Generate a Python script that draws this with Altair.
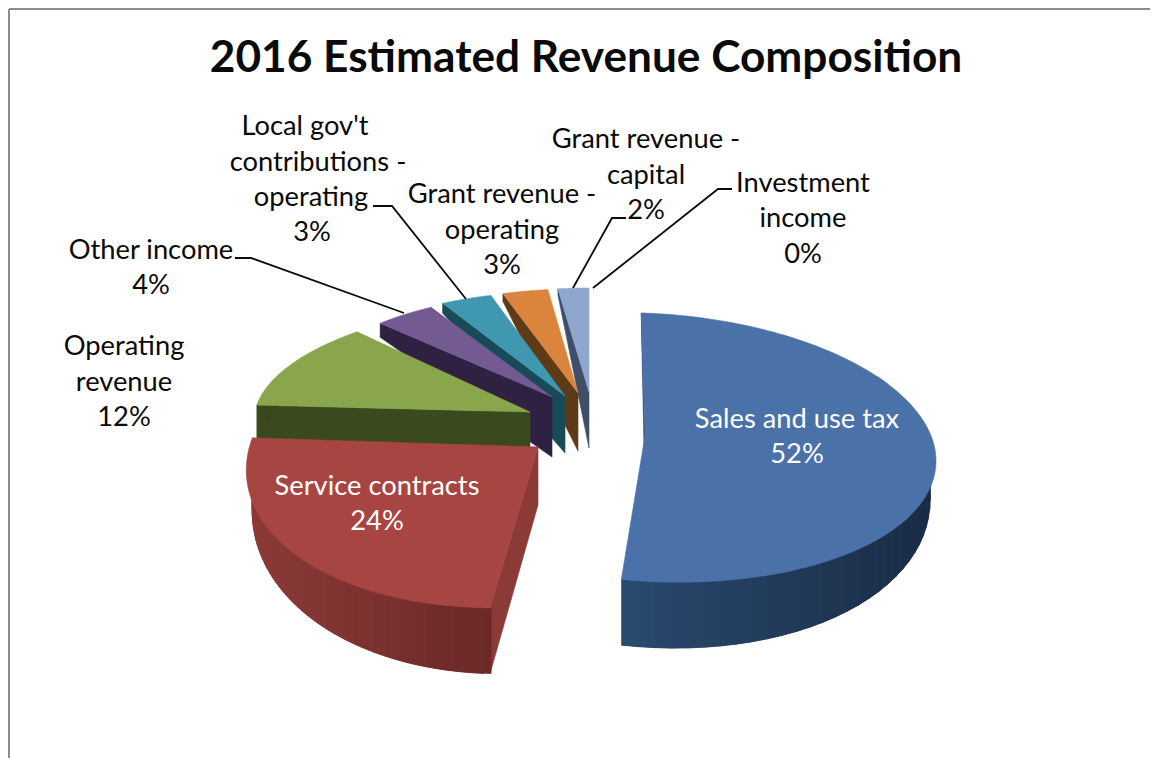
import numpy as np
import pandas as pd
import altair as alt

# ---- chart values ----
categories = ["Sales and use tax", "Service contracts", "Operating revenue", "Other income",
              "Local gov't contributions - operating", "Grant revenue - operating",
              "Grant revenue - capital", "Investment income"]
values = [52, 24, 12, 4, 3, 3, 2, 0]
title_text = "2016 Estimated Revenue Composition"

# ---- colours ----
top_colors = ["#4a71a8", "#a64542", "#8aa64c", "#735a92", "#3f98b0", "#db843d", "#8fa6ce", "#cccccc"]
wall_left = ["#2a4a70", "#8c3a38", "#3a4a1e", "#2e2142", "#184a58", "#5f3a17", "#3f4f6b", "#cccccc"]
wall_right = ["#1a2c45", "#6b2927", "#3a4a1e", "#2e2142", "#184a58", "#5f3a17", "#3f4f6b", "#cccccc"]

# ---- the perspective look of each exploded slice (one entry per category) ----
apex_x = [645, 538, 530, 552, 565, 578, 589, 590]
apex_y = [436, 447, 412, 397, 396, 393, 392, 392]
rim_dx = [5, 0, 0, 0, 0, 0, 0, 0]
radius_a = [284, 287, 275, 251, 274, 245, 248, 248]
shear_x = [-9, 12, 21, 0, 11, 0.6, 0, 0]
radius_b = [133.5, 162, 110, 104, 106, 104, 104, 104]
shear_y = [9, -1, 0, -3, -0.5, 1.3, 0, 0]
persp = [0.085, 0, 0, 0, 0, 0, 0, 0]
bulge = [0, 0.05, 0, 0, 0, 0, 0, 0]
apex_depth = [58, 58, 58, 60, 57, 58, 56, 56]
depth_mean, depth_tilt = 36, 30
bottom_scale = 0.98

edges = np.concatenate([[0], np.cumsum(values)]) / np.sum(values) * 360.0


def rim(i, t):
    t = np.asarray(t, dtype=float)
    a = np.radians(t)
    frac = (t - edges[i]) / max(edges[i + 1] - edges[i], 1e-6)
    s = 1 / (1 + persp[i] * np.cos(a))
    r = (1 + bulge[i] * np.sin(np.pi * frac)) * s
    return (apex_x[i] + r * (radius_a[i] * np.sin(a) + shear_x[i] * np.cos(a) + rim_dx[i]),
            apex_y[i] + r * (-radius_b[i] * np.cos(a) + shear_y[i] * np.sin(a)))


def depth(t):
    return depth_mean - depth_tilt * np.cos(np.radians(t))


def mix(c1, c2, f):
    p = [int(c1[k:k + 2], 16) for k in (1, 3, 5)]
    q = [int(c2[k:k + 2], 16) for k in (1, 3, 5)]
    return "#%02x%02x%02x" % tuple(int(round(u + (v - u) * f)) for u, v in zip(p, q))


rows = []
part = 0


def add_row_pair(x1, y1, y1b, x2, y2, y2b, fill):
    global part
    part += 1
    if x1 > x2:
        x1, y1, y1b, x2, y2, y2b = x2, y2, y2b, x1, y1, y1b
    rows.append(dict(part=part, x=x1, y=y1, y2=y1b, fill=fill))
    rows.append(dict(part=part, x=x2, y=y2, y2=y2b, fill=fill))


def add_polygon(px, py, fill):
    global part
    part += 1
    n = len(px)
    for x in np.unique(np.round(px, 2)):
        ys = []
        for j in range(n):
            x1, y1, x2, y2 = px[j], py[j], px[(j + 1) % n], py[(j + 1) % n]
            lo, hi = min(x1, x2), max(x1, x2)
            if lo - 0.01 <= x <= hi + 0.01:
                if hi - lo < 0.02:
                    ys += [y1, y2]
                else:
                    ys.append(y1 + (y2 - y1) * (min(max(x, lo), hi) - x1) / (x2 - x1))
        rows.append(dict(part=part, x=float(x), y=min(ys), y2=max(ys), fill=fill))


for i in range(len(values) - 1, -1, -1):
    if values[i] == 0:
        continue
    t0, t1 = edges[i], edges[i + 1]
    # the cut face at the start angle
    rx, ry = rim(i, t0)
    add_row_pair(float(rx), float(ry), float(ry + depth(t0)),
                 apex_x[i], apex_y[i], apex_y[i] + apex_depth[i], wall_left[i])
    # the outer wall, in shaded strips (each one overlaps the next, so no seams show)
    ts = np.linspace(t0, t1, 61)
    ts = ts[np.cos(np.radians(ts)) < 0.3]
    if len(ts) > 1:
        tx, ty = rim(i, ts)
        bx = apex_x[i] + bottom_scale * (tx - apex_x[i])
        by = ty + depth(ts)
        lo, hi = bx.min(), bx.max()
        for j in range(len(ts) - 1):
            k = min(j + 2, len(ts) - 1)
            f = ((bx[j] + bx[j + 1]) / 2 - lo) / (hi - lo)
            add_row_pair(float(bx[j]), float(ty[j]), float(by[j]),
                         float(bx[k]), float(ty[k]), float(by[k]),
                         mix(wall_left[i], wall_right[i], f))
    # the top surface (pieces overlap a little, so no seams show)
    pieces = int(np.ceil((t1 - t0) / 90))
    cuts = np.linspace(t0, t1, pieces + 1)
    for n, (a, b) in enumerate(zip(cuts[:-1], cuts[1:])):
        tt = np.linspace(a - 4 if n else a, b, 45)
        tx, ty = rim(i, tt)
        add_polygon(np.concatenate([[apex_x[i]], tx]), np.concatenate([[apex_y[i]], ty]), top_colors[i])

pie = pd.DataFrame(rows)

# ---- labels: one row per printed line ----
label_text = ["Sales and use tax", "52%", "Service contracts", "24%",
              "Operating", "revenue", "12%", "Other income", "4%",
              "Local gov't", "contributions -", "operating", "3%",
              "Grant revenue -", "operating", "3%",
              "Grant revenue -", "capital", "2%",
              "Investment", "income", "0%"]
label_x = [797, 797, 377, 377, 124, 124, 124, 151, 151, 305, 318, 311, 312,
           502, 502, 502, 646, 646, 646, 803, 803, 803]
label_y = [420, 455, 487, 522, 347, 383, 418, 251, 286, 127, 163, 198, 233,
           195, 231, 266, 140, 176, 211, 184, 219, 255]
label_fill = ["white"] * 4 + ["#0a0a0a"] * 18
labels = pd.DataFrame(dict(t=label_text, x=label_x, y=label_y, c=label_fill))

# ---- leader lines ----
leader_id = [0, 0, 0, 1, 1, 1, 2, 2, 2, 3, 3, 3]
leader_x = [235, 251, 404, 373, 392, 466, 626, 612, 573, 732, 718, 593]
leader_y = [258, 258, 313, 206, 206, 299, 218, 218, 288, 189, 189, 288]
leader_order = [0, 1, 2] * 4
leaders = pd.DataFrame(dict(id=leader_id, x=leader_x, y=leader_y, o=leader_order))

x_scale = alt.Scale(domain=[8, 1150], nice=False, zero=False)
y_scale = alt.Scale(domain=[758, 8], nice=False, zero=False)
X = alt.X("x:Q", scale=x_scale, axis=None)
Y = alt.Y("y:Q", scale=y_scale, axis=None)

frame_v = pd.DataFrame(dict(x=[9], y=[9], y2=[758]))
frame_h = pd.DataFrame(dict(x=[9], x2=[1150], y=[9]))
frame = alt.layer(
    alt.Chart(frame_v).mark_rule(color="#8c8c8c", strokeWidth=2).encode(X, Y, y2="y2:Q"),
    alt.Chart(frame_h).mark_rule(color="#8c8c8c", strokeWidth=2).encode(X, Y, x2="x2:Q"),
)

areas = alt.Chart(pie).mark_area(strokeWidth=0.6, clip=False).encode(
    X, Y, y2="y2:Q",
    detail="part:N",
    fill=alt.Fill("fill:N", scale=None),
    stroke=alt.Stroke("fill:N", scale=None),
)

lines = alt.Chart(leaders).mark_line(color="#0a0a0a", strokeWidth=1.8).encode(
    X, Y, detail="id:N", order="o:Q")

texts = alt.Chart(labels).mark_text(font="Lato", fontSize=27.3, baseline="middle", align="center").encode(
    X, Y, text="t:N", color=alt.Color("c:N", scale=None))

title_df = pd.DataFrame(dict(t=[title_text], x=[586], y=[59]))
title = alt.Chart(title_df).mark_text(font="Lato", fontSize=44.2, fontWeight="bold", color="#0a0a0a",
                                      baseline="middle", align="center").encode(X, Y, text="t:N")

chart = alt.layer(frame, areas, lines, texts, title).properties(
    width=1142, height=750, padding=0, background="white",
    autosize=alt.AutoSizeParams(type="none"),
).configure_view(stroke=None)

chart.save("out.html", embed_options={"renderer": "svg", "actions": False})
